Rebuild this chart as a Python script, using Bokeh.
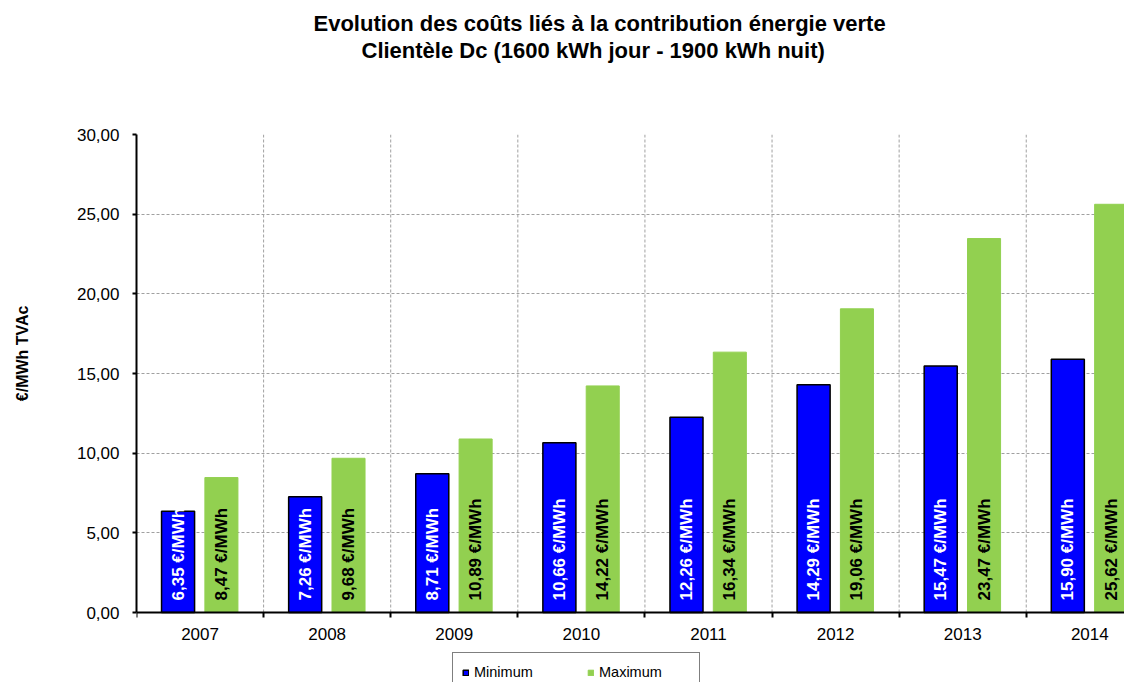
from bokeh.plotting import figure
from bokeh.models import Range1d, FixedTicker, Legend, LegendItem, Title, ColumnDataSource
from bokeh.core.properties import value
from bokeh.embed import file_html
from bokeh.resources import INLINE
import math

# ---- data ----
years = ["2007", "2008", "2009", "2010", "2011", "2012", "2013", "2014"]
minimum = [6.35, 7.26, 8.71, 10.66, 12.26, 14.29, 15.47, 15.90]
maximum = [8.47, 9.68, 10.89, 14.22, 16.34, 19.06, 23.47, 25.62]
y_ticks = [0, 5, 10, 15, 20, 25, 30]
y_tick_labels = ["0,00", "5,00", "10,00", "15,00", "20,00", "25,00", "30,00"]
title_line1 = "Evolution des coûts liés à la contribution énergie verte"
title_line2 = "Clientèle Dc (1600 kWh jour - 1900 kWh nuit)"
y_label = "€/MWh TVAc"
series_names = ["Minimum", "Maximum"]

FONT = "Liberation Sans"
BLUE = "#0000FF"
GREEN = "#92D050"
GRID = "#A0A0A0"


def fmt(v):
    return ("%.2f" % v).replace(".", ",") + " €/MWh"


n = len(years)
y_max = y_ticks[-1]
centers = [i + 0.5 for i in range(n)]
bounds = list(range(1, n))
bar_w = 0.26
src_min = ColumnDataSource(dict(x=[c - 0.173 for c in centers], top=minimum,
                                lab=[fmt(v) for v in minimum]))
src_max = ColumnDataSource(dict(x=[c + 0.168 for c in centers], top=maximum,
                                lab=[fmt(v) for v in maximum]))

# frame spans 136..1124 x 134..682; value 0 sits 70px above the frame bottom
p = figure(width=1124, height=682, output_backend="svg", toolbar_location=None,
           x_range=Range1d(0, 7.773), y_range=Range1d(-4.393, y_max),
           min_border_left=136, min_border_right=0, min_border_top=134,
           min_border_bottom=0, title=None)
p.outline_line_color = None
p.background_fill_color = "white"
p.border_fill_color = "white"

# vertical dashed grid between categories (only over the value area)
p.segment(x0=bounds, y0=[0] * len(bounds), x1=bounds, y1=[y_max] * len(bounds),
          line_color=GRID, line_dash="3 2", line_width=1)

# bars
r_min = p.vbar(x="x", top="top", width=bar_w, source=src_min, fill_color=BLUE,
               line_color="black", line_width=1.5)
r_max = p.vbar(x="x", top="top", width=bar_w, source=src_max, fill_color=GREEN,
               line_color=GREEN, line_width=1)

# rotated value labels
p.text(x="x", y=0, text="lab", source=src_min, angle=math.pi / 2,
       text_align="left", text_baseline="middle", y_offset=-12,
       text_font=value(FONT), text_font_size="17px", text_font_style="bold",
       text_color="white")
p.text(x="x", y=0, text="lab", source=src_max, angle=math.pi / 2,
       text_align="left", text_baseline="middle", y_offset=-12,
       text_font=value(FONT), text_font_size="17px", text_font_style="bold",
       text_color="black")

# axes
xax = p.xaxis[0]
xax.fixed_location = 0
xax.ticker = FixedTicker(ticks=centers, minor_ticks=list(range(n + 1)))
xax.major_label_overrides = {c: y for c, y in zip(centers, years)}
xax.major_tick_out = 0
xax.major_tick_in = 0
xax.minor_tick_out = 5
xax.minor_tick_in = 0
xax.minor_tick_line_color = "black"
xax.minor_tick_line_width = 2
xax.axis_line_width = 2
xax.axis_line_color = "black"
xax.major_label_text_font = FONT
xax.major_label_text_font_size = "17px"
xax.major_label_text_color = "black"
xax.major_label_standoff = 10

yax = p.yaxis[0]
yax.bounds = (0, y_max)
yax.ticker = FixedTicker(ticks=y_ticks)
yax.major_label_overrides = {t: l for t, l in zip(y_ticks, y_tick_labels)}
yax.major_tick_out = 4
yax.major_tick_in = 0
yax.major_tick_line_width = 2
yax.minor_tick_out = 0
yax.minor_tick_in = 0
yax.axis_line_width = 2
yax.axis_line_color = "black"
yax.major_label_text_font = FONT
yax.major_label_text_font_size = "17px"
yax.major_label_text_color = "black"
yax.major_label_standoff = 13

# y-axis title in the left panel (spacer first, nearest the axis)
p.add_layout(Title(text=" ", text_font_size="10px", standoff=30), "left")
p.add_layout(Title(text=y_label, align="right", offset=171, standoff=0,
                   vertical_align="bottom", text_font=FONT, text_font_size="16px",
                   text_font_style="bold", text_color="black"), "left")

# grids
p.xgrid.visible = False
p.ygrid.ticker = FixedTicker(ticks=y_ticks[1:])
p.ygrid.grid_line_color = GRID
p.ygrid.grid_line_dash = "3 2"
p.ygrid.grid_line_width = 1

# titles: spacer nearest to the frame, then line 2, then line 1
p.add_layout(Title(text=" ", text_font_size="10px", standoff=59), "above")
p.add_layout(Title(text=title_line2, align="left", offset=225, standoff=0,
                   text_font=FONT, text_font_size="22px", text_font_style="bold",
                   text_line_height=1.0, text_color="black"), "above")
p.add_layout(Title(text=title_line1, align="left", offset=177, standoff=0,
                   text_font=FONT, text_font_size="22px", text_font_style="bold",
                   text_color="black"), "above")

# legend inside the (extended) frame, under the axis labels
legend = Legend(items=[LegendItem(label=series_names[0], renderers=[r_min]),
                       LegendItem(label=series_names[1], renderers=[r_max])],
                orientation="horizontal", location=(316, -10),
                glyph_width=7, glyph_height=7, label_standoff=5, spacing=22,
                label_width=91, label_height=20,
                padding=9, label_text_font=FONT, label_text_font_size="14.5px",
                label_text_color="black", border_line_color="black",
                border_line_width=1, background_fill_color="white",
                background_fill_alpha=1, margin=0)
p.add_layout(legend, "center")

open("out.html", "w").write(file_html(p, INLINE))
